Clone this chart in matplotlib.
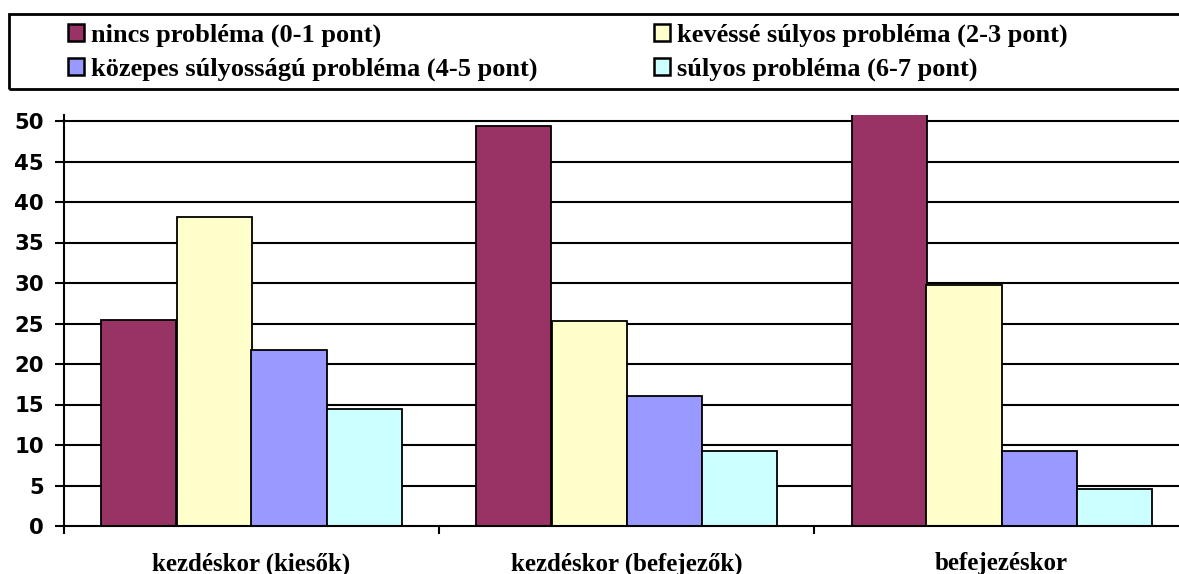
import matplotlib
matplotlib.use("Agg")
import matplotlib.pyplot as plt
from matplotlib.patches import Rectangle, Patch
import numpy as np

categories = ["kezdéskor (kiesők)", "kezdéskor (befejezők)", "befejezéskor"]
series_names = ["nincs probléma (0-1 pont)", "kevéssé súlyos probléma (2-3 pont)",
                "közepes súlyosságú probléma (4-5 pont)", "súlyos probléma (6-7 pont)"]
nincs = [25.4, 49.4, 52.0]
keveset = [38.2, 25.3, 29.8]
kozepes = [21.7, 16.0, 9.2]
sulyos = [14.4, 9.2, 4.6]
yticks = [0, 5, 10, 15, 20, 25, 30, 35, 40, 45, 50]

colors = ["#993366", "#FFFFCC", "#9999FF", "#CCFFFF"]
series = [nincs, keveset, kozepes, sulyos]

W, H = 1179, 574
fig = plt.figure(figsize=(W / 100, H / 100), dpi=100)
ax = fig.add_axes([64 / W, (H - 526) / H, (1189 - 64) / W, (526 - 115) / H])

x = np.arange(len(categories)) + 0.5
bw = 0.2
for i, (vals, c) in enumerate(zip(series, colors)):
    ax.bar(x + (i - 1.5) * bw, vals, width=bw, color=c, edgecolor="black",
           linewidth=1.3, zorder=3, label=series_names[i])

ax.set_xlim(0, 3)
ax.set_ylim(0, (526 - 115) / 8.1)
ax.set_yticks(yticks)
ax.set_yticklabels([str(v) for v in yticks], family="DejaVu Sans",
                   fontweight="bold", fontsize=15.3)
for yv in yticks[1:]:
    ax.axhline(yv, color="black", linewidth=1.5, zorder=1)

ax.set_xticks(x)
ax.set_xticklabels(categories, family="Liberation Serif", fontweight="bold", fontsize=17.9)
ax.set_xticks([0, 1, 2, 3], minor=True)
ax.tick_params(axis="x", which="major", length=0, pad=19)
ax.tick_params(axis="x", which="minor", length=6, width=1.5, direction="out")
ax.tick_params(axis="y", length=6.5, width=1.5, direction="out", pad=8)

for s in ["top", "right"]:
    ax.spines[s].set_visible(False)
ax.spines["left"].set_linewidth(1.5)
ax.spines["bottom"].set_linewidth(1.5)
ax.spines["left"].set_zorder(4)
ax.spines["bottom"].set_zorder(4)

# legend frame
fig.patches.append(Rectangle((9 / W, (H - 89) / H), 1.1, 75 / H, transform=fig.transFigure,
                             facecolor="none", edgecolor="black", linewidth=2.0))
handles = [Patch(facecolor=c, edgecolor="black", linewidth=1.8) for c in colors]
order = [0, 2, 1, 3]
leg = fig.legend([handles[i] for i in order], [series_names[i] for i in order],
                 loc="upper left", bbox_to_anchor=(68 / W, 1 - 24 / H), ncol=2,
                 frameon=False, prop={"family": "Liberation Serif", "weight": "bold", "size": 19},
                 handlelength=0.62, handleheight=0.62, handletextpad=0.25,
                 columnspacing=4.4, labelspacing=0.4, borderaxespad=0, borderpad=0)

fig.savefig("out.png", dpi=100)
